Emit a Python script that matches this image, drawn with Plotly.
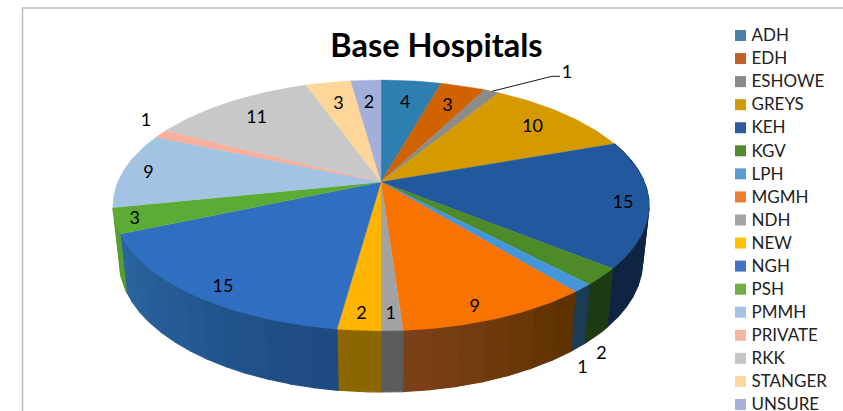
import math
import plotly.graph_objects as go

# ---- data ----
categories = ["ADH", "EDH", "ESHOWE", "GREYS", "KEH", "KGV", "LPH", "MGMH", "NDH",
              "NEW", "NGH", "PSH", "PMMH", "PRIVATE", "RKK", "STANGER", "UNSURE"]
values = [4, 3, 1, 10, 15, 2, 1, 9, 1, 2, 15, 3, 9, 1, 11, 3, 2]

# ---- styles ----
top_colors = ["#2E7EAF", "#D06200", "#8C8C8C", "#D49A00", "#22599E", "#4E8A27", "#4496D8",
              "#F97300", "#A2A2A2", "#FFB400", "#306EC2", "#5CAB35", "#A3C3E2", "#FBAE9A",
              "#C8C8C8", "#FFD699", "#A2AFDA"]
legend_colors = ["#4A7EAB", "#C0622A", "#8A8A8A", "#D09A0A", "#2F5A9E", "#568A32", "#5B9BD5",
                 "#ED7D31", "#A5A5A5", "#FFC000", "#4472C4", "#70AD47", "#A9C1E4", "#F4B6A3",
                 "#C6C6C6", "#FDD69F", "#A5B1D9"]
# side wall colour at the start and at the end of each slice (clockwise)
side_from = ["#1A4763", "#763800", "#505050", "#795800", "#0E2340", "#1E3A12", "#1C3C55",
             "#5F3300", "#5C5C5C", "#8C6600", "#1D4A80", "#569E32", "#5D6F81", "#8F6358",
             "#727272", "#917A57", "#5C647C"]
side_to = ["#1A4763", "#763800", "#505050", "#795800", "#0F2442", "#1E3A12", "#1C3C55",
           "#7C4018", "#666666", "#9A7000", "#2A65A0", "#569E32", "#5D6F81", "#8F6358",
           "#727272", "#917A57", "#5C647C"]
label_radius = [.77, .783, 1, .813, .906, 1, 1, .905, .90, .90, .903, .93, .903, 1, .80, .776, .766]
label_shift = {2: (75, -20), 5: (0, 76), 6: (0, 78), 7: (-10, 3), 10: (8, 3), 13: (-15, -14)}
LABEL_DY = 2

W, H = 843, 411
CX, CY = 381, 182
K = 0.187
A, B = 263.3, 121.0
A2, B2, CY2 = 257.0, 126.0, 237.0
total = sum(values)


def top(angle, r=1.0):
    s, c = math.sin(angle), math.cos(angle)
    d = 1 + K * r * c
    return CX + A * r * s / d, CY - B * r * c / d


def bottom(angle):
    s, c = math.sin(angle), math.cos(angle)
    d = 1 + K * c
    return CX + A2 * s / d, CY2 - B2 * c / d


def mix(c1, c2, t):
    a = [int(c1[i:i + 2], 16) for i in (1, 3, 5)]
    b = [int(c2[i:i + 2], 16) for i in (1, 3, 5)]
    return "rgb(%d,%d,%d)" % tuple(round(p + (q - p) * t) for p, q in zip(a, b))


def arc(a0, a1, step=math.radians(1.0)):
    n = max(2, int((a1 - a0) / step) + 1)
    return [a0 + (a1 - a0) * i / n for i in range(n + 1)]


fig = go.Figure()
bounds = []
cum = 0
for v in values:
    bounds.append((cum / total * 2 * math.pi, (cum + v) / total * 2 * math.pi))
    cum += v

# side walls, drawn first so the top face covers the hidden part
for i, (a0, a1) in enumerate(bounds):
    if math.cos((a0 + a1) / 2) > 0:
        continue
    n = max(1, int((a1 - a0) / math.radians(4.5)))
    for j in range(n):
        b0 = a0 + (a1 - a0) * j / n
        b1 = a0 + (a1 - a0) * (j + 1) / n
        pts = [top(t) for t in arc(b0, b1)] + [bottom(t) for t in reversed(arc(b0, b1))]
        col = mix(side_from[i], side_to[i], j / max(1, n - 1))
        fig.add_trace(go.Scatter(x=[p[0] for p in pts] + [pts[0][0]],
                                 y=[p[1] for p in pts] + [pts[0][1]],
                                 mode="lines", fill="toself", fillcolor=col,
                                 line=dict(color=col, width=1.2),
                                 hoverinfo="skip", showlegend=False))

# top faces
for i, (a0, a1) in enumerate(bounds):
    pts = [(CX, CY)] + [top(t) for t in arc(a0, a1)] + [(CX, CY)]
    fig.add_trace(go.Scatter(x=[p[0] for p in pts], y=[p[1] for p in pts],
                             mode="lines", fill="toself", fillcolor=top_colors[i],
                             line=dict(color=top_colors[i], width=0.4),
                             name=categories[i], hoverinfo="name", showlegend=False))

# data labels
lab_x, lab_y = [], []
for i, (a0, a1) in enumerate(bounds):
    x, y = top((a0 + a1) / 2, label_radius[i])
    dx, dy = label_shift.get(i, (0, 0))
    lab_x.append(x + dx)
    lab_y.append(y + dy + LABEL_DY)
fig.add_trace(go.Scatter(x=lab_x, y=lab_y, mode="text", text=[str(v) for v in values],
                         textposition="middle center",
                         textfont=dict(family="Lato", size=18, color="#000000"),
                         hoverinfo="skip", showlegend=False))

# leader line of the ESHOWE label
lx, ly = top(sum(bounds[2]) / 2)
fig.add_trace(go.Scatter(x=[lx, lab_x[2] - 15, lab_x[2] - 7], y=[ly, lab_y[2] + 3, lab_y[2] + 3],
                         mode="lines", line=dict(color="#1a1a1a", width=1),
                         hoverinfo="skip", showlegend=False))

# legend
LEG_X, LEG_Y, LEG_STEP, LEG_TEXT_X = 740.5, 35.5, 23.06, 751.5
leg_y = [LEG_Y + LEG_STEP * i for i in range(len(categories))]
fig.add_trace(go.Scatter(x=[LEG_X] * len(categories), y=leg_y, mode="markers",
                         marker=dict(symbol="square", size=11, color=legend_colors),
                         text=categories, hoverinfo="text", showlegend=False))
fig.add_trace(go.Scatter(x=[LEG_TEXT_X] * len(categories), y=[v + 1.5 for v in leg_y], mode="text",
                         text=categories, textposition="middle right",
                         textfont=dict(family="Lato", size=17, color="#222222"),
                         hoverinfo="skip", showlegend=False))

fig.update_layout(
    width=W, height=H, margin=dict(l=0, r=0, t=0, b=0),
    paper_bgcolor="white", plot_bgcolor="white", showlegend=False,
    xaxis=dict(range=[0, W], visible=False, fixedrange=True),
    yaxis=dict(range=[H, 0], visible=False, fixedrange=True),
    title=dict(text="<b>Base Hospitals</b>", x=436.5 / W, y=1 - 46 / H,
               xanchor="center", yanchor="middle",
               font=dict(family="Lato", size=32.5, color="#000000")),
    shapes=[dict(type="path", path=f"M 22.5 {H} L 22.5 8 L {W} 8", xref="x", yref="y",
                 line=dict(color="#BDBDBD", width=1.5), layer="below")],
)
fig.write_html("out.html", config={"displayModeBar": False},
               post_script="document.body.style.margin='0';document.documentElement.style.overflow='hidden';")
